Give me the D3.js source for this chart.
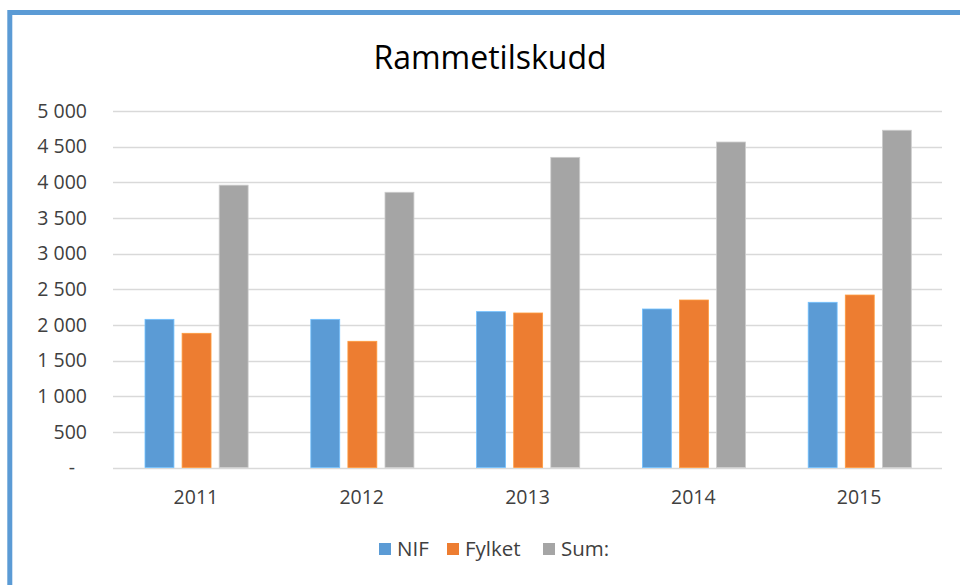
<!DOCTYPE html>
<html>
<head>
<meta charset="utf-8">
<script src="https://d3js.org/d3.v7.min.js"></script>
<style>
  body { margin: 0; background: #fff; }
  svg { display: block; font-family: "Open Sans", "Liberation Sans", sans-serif; }
</style>
</head>
<body>
<div id="chart"></div>
<script>
// Chart data
var years = ["2011", "2012", "2013", "2014", "2015"];
var seriesNames = ["NIF", "Fylket", "Sum:"];
var nifValues = [2078, 2078, 2186, 2223, 2317];
var fylketValues = [1882, 1770, 2167, 2349, 2419];
var sumValues = [3960, 3860, 4350, 4565, 4730];
var yTicks = [0, 500, 1000, 1500, 2000, 2500, 3000, 3500, 4000, 4500, 5000];
var colors = ["#5B9BD5", "#ED7D31", "#A5A5A5"];

var width = 960;
var height = 585;

// plot area
var plotLeft = 113;
var plotRight = 942;
var plotTop = 111;
var plotBottom = 467.5;

var svg = d3.select("#chart")
  .append("svg")
  .attr("width", width)
  .attr("height", height);

// selection frame (blue border)
svg.append("rect")
  .attr("x", 9.8)
  .attr("y", 12.5)
  .attr("width", width + 20)
  .attr("height", height + 20)
  .attr("fill", "none")
  .attr("stroke", "#5B9BD5")
  .attr("stroke-width", 5);

var values = [nifValues, fylketValues, sumValues];
var data = years.map(function(y, i) {
  return { year: y, vals: values.map(function(s) { return s[i]; }) };
});

var xScale = d3.scaleBand()
  .domain(years)
  .range([plotLeft, plotRight]);

var groupStart = xScale.bandwidth() * 0.193;
var groupEnd = xScale.bandwidth() * 0.815;

var xInner = d3.scaleBand()
  .domain(d3.range(seriesNames.length))
  .range([groupStart, groupEnd])
  .paddingInner(0.22);

var yScale = d3.scaleLinear()
  .domain([0, 5000])
  .range([plotBottom, plotTop]);

// gridlines
svg.append("g")
  .selectAll("line")
  .data(yTicks)
  .enter()
  .append("line")
  .attr("x1", plotLeft)
  .attr("x2", plotRight)
  .attr("y1", function(d) { return Math.round(yScale(d)) + 0.5; })
  .attr("y2", function(d) { return Math.round(yScale(d)) + 0.5; })
  .attr("stroke", "#d9d9d9")
  .attr("stroke-width", 1.3);

// y labels
var fmt = function(d) {
  if (d === 0) return "-";
  return d3.format(",")(d).replace(",", " ");
};

svg.append("g")
  .selectAll("text")
  .data(yTicks)
  .enter()
  .append("text")
  .attr("x", function(d) { return d === 0 ? 75 : 87; })
  .attr("y", function(d) { return yScale(d); })
  .attr("dy", "0.35em")
  .attr("text-anchor", "end")
  .attr("font-size", "19.5px")
  .attr("fill", "#404040")
  .text(fmt);

// bars
var groups = svg.append("g")
  .selectAll("g")
  .data(data)
  .enter()
  .append("g")
  .attr("transform", function(d) { return "translate(" + xScale(d.year) + ",0)"; });

groups.selectAll("rect")
  .data(function(d) { return d.vals; })
  .enter()
  .append("rect")
  .attr("x", function(d, i) { return xInner(i); })
  .attr("y", function(d) { return yScale(d); })
  .attr("width", xInner.bandwidth())
  .attr("height", function(d) { return plotBottom - yScale(d); })
  .attr("fill", function(d, i) { return colors[i]; })
  .attr("stroke", function(d, i) { return d3.color(colors[i]).brighter(0.6); })
  .attr("stroke-width", 0.8);

// x labels
svg.append("g")
  .selectAll("text")
  .data(years)
  .enter()
  .append("text")
  .attr("x", function(d) { return xScale(d) + xScale.bandwidth() / 2; })
  .attr("y", 497)
  .attr("dy", "0.35em")
  .attr("text-anchor", "middle")
  .attr("font-size", "19.5px")
  .attr("fill", "#404040")
  .text(function(d) { return d; });

// title
svg.append("text")
  .attr("x", 490)
  .attr("y", 58)
  .attr("dy", "0.35em")
  .attr("text-anchor", "middle")
  .attr("font-size", "32px")
  .attr("fill", "#000")
  .text("Rammetilskudd");

// legend
var legendX = [379, 447, 543];
var legend = svg.append("g")
  .selectAll("g")
  .data(seriesNames)
  .enter()
  .append("g")
  .attr("transform", function(d, i) { return "translate(" + legendX[i] + ",549)"; });

legend.append("rect")
  .attr("x", 0)
  .attr("y", -6)
  .attr("width", 12)
  .attr("height", 12)
  .attr("fill", function(d, i) { return colors[i]; });

legend.append("text")
  .attr("x", 18)
  .attr("y", 0)
  .attr("dy", "0.35em")
  .attr("font-size", "20.5px")
  .attr("fill", "#404040")
  .text(function(d) { return d; });
</script>
</body>
</html>
